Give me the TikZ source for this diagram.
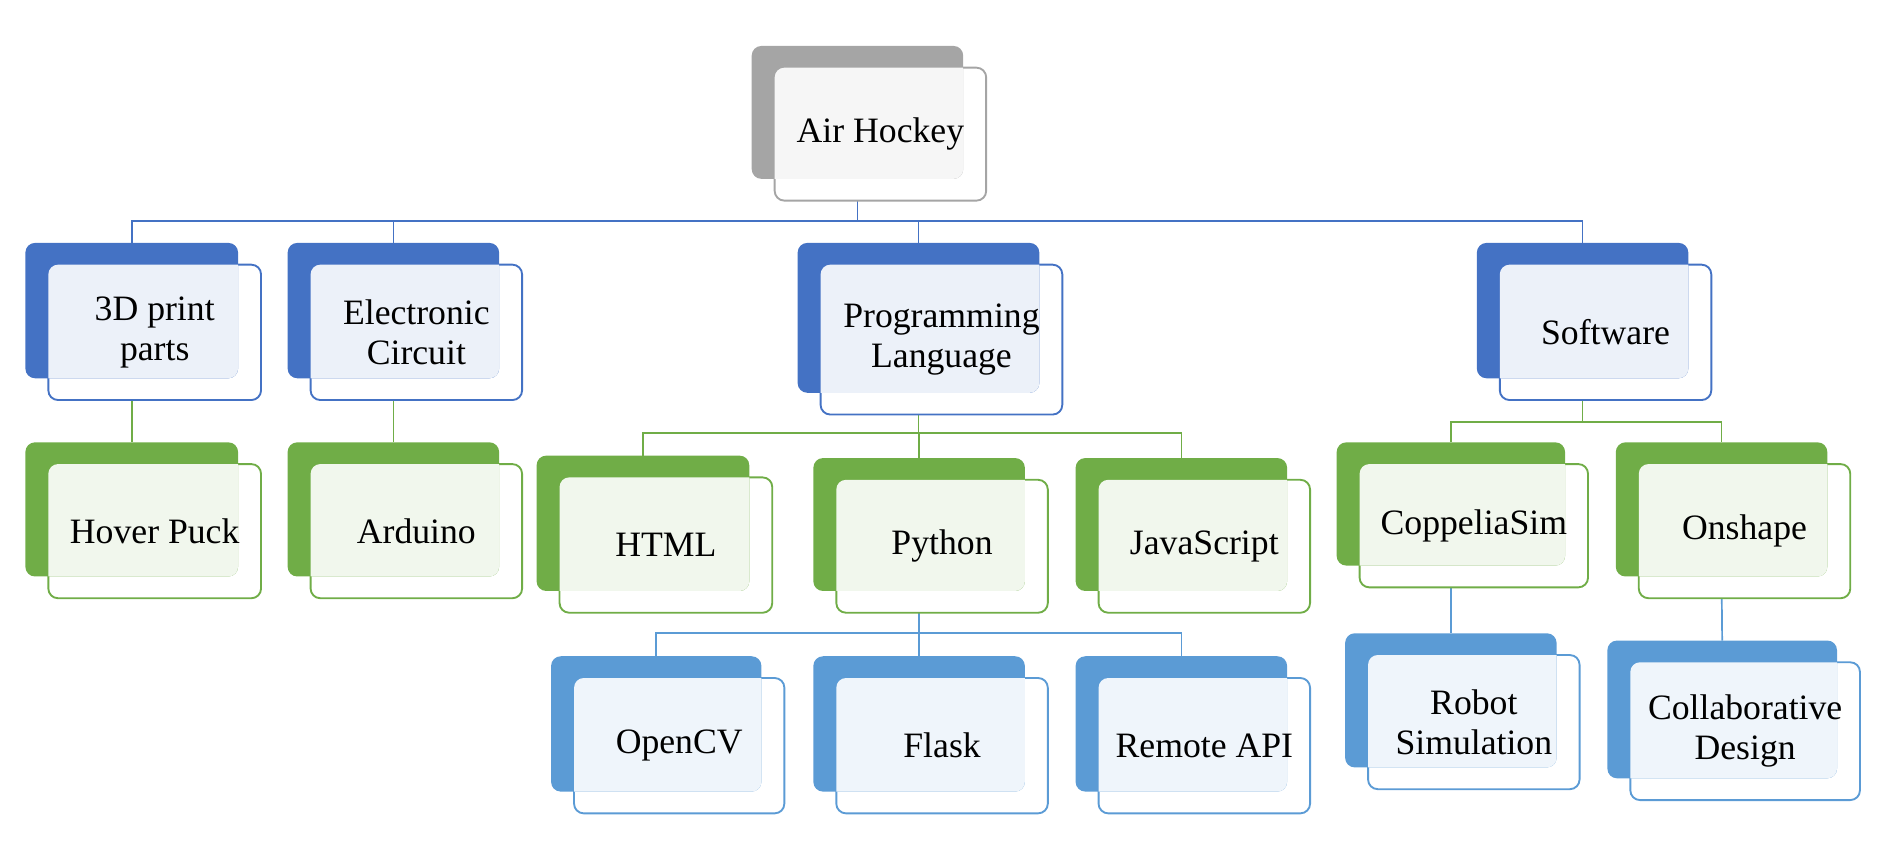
\documentclass[tikz,border=0pt]{standalone}
\usepackage{fontspec}
\setmainfont{Liberation Serif}
\usetikzlibrary{backgrounds,calc}

\definecolor{grayA}{HTML}{A5A5A5}
\definecolor{blueA}{HTML}{4472C4}
\definecolor{greenA}{HTML}{70AD47}
\definecolor{skyA}{HTML}{5B9BD5}

% name, colour, x, y, width, height, text
\newcommand{\smarttile}[7]{%
  \node[frontbox, draw=#2, minimum width=#5*0.025cm, minimum height=#6*0.025cm] (#1f) at ($(#3,#4)+(19,18)$) {};
  \node[backbox, fill=#2, minimum width=#5*0.025cm, minimum height=#6*0.025cm] (#1) at (#3,#4) {};
  \begin{scope}
    \clip[rounded corners=0.2cm] (#1.south west) rectangle (#1.north east);
    \fill[#2!10, rounded corners=0.2cm] (#1f.south west) rectangle (#1f.north east);
  \end{scope}
  \node[tiletext] (#1t) at (#1f.center) {#7};
}

\begin{document}
\begin{tikzpicture}[x=0.025cm, y=-0.025cm,
  frontbox/.style={rectangle, rounded corners=0.2cm, fill=white, line width=1.1pt, inner sep=0, outer sep=0},
  backbox/.style={rectangle, rounded corners=0.2cm, inner sep=0, outer sep=0},
  tiletext/.style={align=center, inner sep=0, font=\fontsize{21}{23.5}\selectfont},
  link/.style={line width=1pt}]
\useasboundingbox (0,0) rectangle (1568,698);
\smarttile{air}{grayA}{709.5}{93}{175}{110}{Air Hockey}
\smarttile{print}{blueA}{109}{257}{176}{112}{3D print\\parts}
\smarttile{elec}{blueA}{325.5}{257}{175}{112}{Electronic\\Circuit}
\smarttile{prog}{blueA}{760}{263}{200}{124}{Programming\\Language}
\smarttile{soft}{blueA}{1309.5}{257}{175}{112}{Software}
\smarttile{puck}{greenA}{109}{421.5}{176}{111}{Hover Puck}
\smarttile{ardu}{greenA}{325.5}{421.5}{175}{111}{Arduino}
\smarttile{html}{greenA}{532}{433}{176}{112}{HTML}
\smarttile{py}{greenA}{760.5}{434}{175}{110}{Python}
\smarttile{js}{greenA}{977.5}{434}{175}{110}{JavaScript}
\smarttile{cop}{greenA}{1200.5}{417}{189}{102}{CoppeliaSim}
\smarttile{onsh}{greenA}{1424.5}{421.5}{175}{111}{Onshape}
\smarttile{cv}{skyA}{543}{599}{174}{112}{OpenCV}
\smarttile{flask}{skyA}{760.5}{599}{175}{112}{Flask}
\smarttile{api}{skyA}{977.5}{599}{175}{112}{Remote API}
\smarttile{robot}{skyA}{1200.5}{579.5}{175}{111}{Robot\\Simulation}
\smarttile{collab}{skyA}{1425}{587}{190}{114}{Collaborative\\Design}
%Drawing lines
\begin{scope}[on background layer]
\draw [link, blueA] (air.south) -- ++(0,35) -| (print.north);
\draw [link, blueA] (air.south) -- ++(0,35) -| (elec.north);
\draw [link, blueA] (air.south) -- ++(0,35) -| (prog.north);
\draw [link, blueA] (air.south) -- ++(0,35) -| (soft.north);
\draw [link, greenA] (print.south) -- (puck.north);
\draw [link, greenA] (elec.south) -- (ardu.north);
\draw [link, greenA] (prog.south) -- ++(0,33) -| (html.north);
\draw [link, greenA] (prog.south) -- ++(0,33) -| (py.north);
\draw [link, greenA] (prog.south) -- ++(0,33) -| (js.north);
\draw [link, greenA] (soft.south) -- ++(0,36) -| (cop.north);
\draw [link, greenA] (soft.south) -- ++(0,36) -| (onsh.north);
\draw [link, skyA] (py.south) -- ++(0,35) -| (cv.north);
\draw [link, skyA] (py.south) -- ++(0,35) -| (flask.north);
\draw [link, skyA] (py.south) -- ++(0,35) -| (api.north);
\draw [link, skyA] (cop.south) -- (robot.north);
\draw [link, skyA] (onsh.south) -- (collab.north);
\end{scope}
\end{tikzpicture}
\end{document}
